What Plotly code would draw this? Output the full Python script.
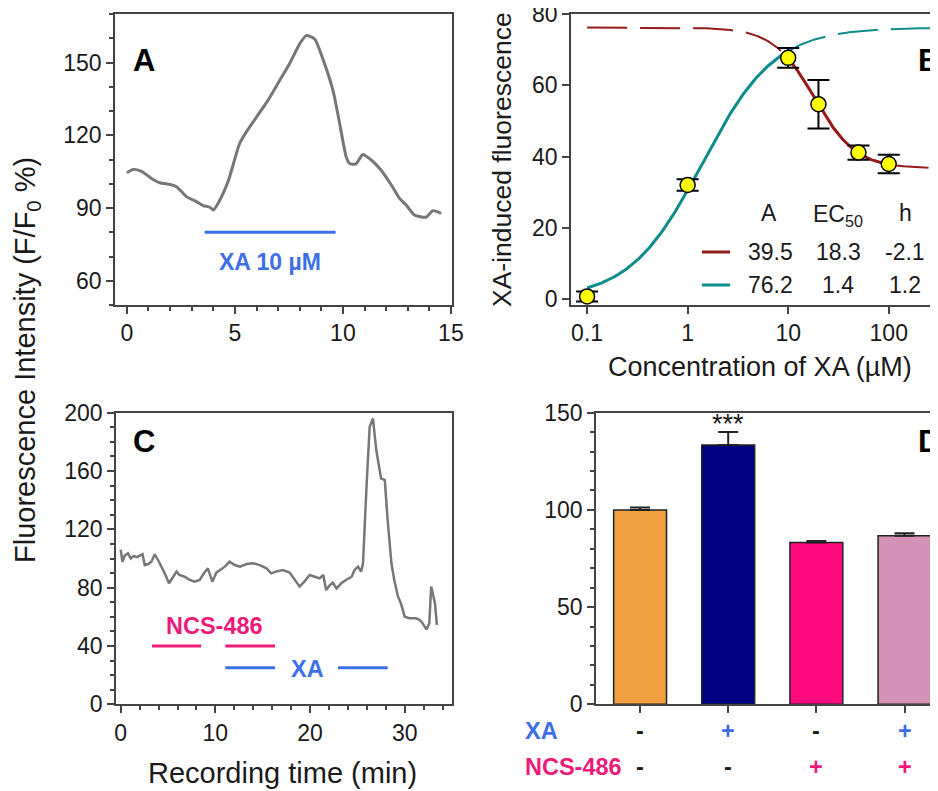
import numpy as np
import plotly.graph_objects as go

# page body has an 8px margin, so the figure is offset by 8px
OFF = 8
W, H = 938 - OFF, 791 - OFF
def px(x):
    return (x - OFF) / W
def py(y):
    return 1 - (y - OFF) / H

# ---------------- Panel A data ----------------
a_time = [0, 0.29, 0.68, 1.14, 1.53, 2.0, 2.3, 2.76, 3.22, 3.53, 3.84, 4.0, 4.22, 4.68,
          5.22, 5.53, 6.0, 6.53, 7.07, 7.53, 8.0, 8.3, 8.69, 9.07, 9.54, 9.85, 10.15,
          10.3, 10.6, 10.92, 11.23, 11.77, 12.24, 12.62, 12.93, 13.31, 13.85, 14.16, 14.55]
a_fluor = [104.5, 105.9, 105.1, 102.2, 100.4, 99.7, 98.8, 94.7, 92.6, 91.0, 90.3, 89.2, 91.9, 100.8,
           116.6, 121.4, 127.5, 134.4, 142.6, 149.5, 157.7, 161.1, 159.7, 151.5, 138.5, 124.8, 111.1,
           108.4, 108.1, 112.1, 110.4, 105.6, 99.5, 94.0, 91.2, 87.1, 86.2, 88.9, 87.8]
a_xa_period = [3.6, 9.66]
a_xa_level = [80, 80]

# ---------------- Panel B data ----------------
b_conc = [0.1, 1, 10, 20, 50, 100]
b_resp = [0.7, 32.0, 67.7, 54.7, 41.1, 37.9]
b_err = [1.4, 1.6, 2.8, 6.8, 2.0, 2.6]
fit_up = dict(A=76.2, EC50=1.4, h=1.2)
fit_down = dict(A=39.5, EC50=18.3, h=2.1, top=76.2)
b_tickvals = [0.1, 1, 10, 100]
b_ticktext = ["0.1", "1", "10", "100"]
b_ytickvals = [0, 20, 40, 60, 80]

# ---------------- Panel C data ----------------
c_time = [0, 0.18, 0.42, 0.77, 1.06, 1.37, 1.73, 2.0, 2.3, 2.54, 2.9, 3.24, 3.6, 3.94, 4.3, 4.65,
          5.1, 5.5, 5.9, 6.2, 6.76, 7.3, 7.8, 8.35, 8.77, 9.2, 9.68, 10.1, 10.5, 11.0, 11.5,
          12.04, 12.6, 13.3, 14.0, 14.7, 15.4, 15.9, 16.4, 17.1, 17.85, 18.4, 18.9, 19.4, 19.96,
          20.5, 21.0, 21.4, 21.7, 22.1, 22.4, 22.8, 23.3, 23.8, 24.4, 24.7, 25.07, 25.4, 25.6,
          25.95, 26.3, 26.65, 27.0, 27.5, 27.9, 28.2, 28.6, 28.9, 29.3, 29.6, 30.0, 30.5, 31.2,
          31.6, 31.9, 32.3, 32.6, 32.8, 33.2, 33.4]
c_fluor = [106, 97.8, 102, 103.5, 100, 101.7, 101, 102, 103, 95.5, 96.2, 97.8, 102.9, 99, 94.4, 89.8,
           83, 87.5, 91, 88.7, 87.5, 85.3, 84.1, 85.3, 89.8, 93.3, 84.1, 90.3, 92.1, 94.4, 97.8,
           95.5, 94.4, 96.2, 96.7, 95.5, 93.3, 89.8, 91, 92.1, 90.3, 85.3, 80.7, 84.1, 88.7,
           87.5, 86.4, 88.7, 78.4, 81.8, 83.4, 79.5, 83, 85.3, 87.5, 92.1, 94.4, 91, 96.7,
           147, 190.4, 196, 174.4, 155, 153.8, 126.4, 96.7, 85.3, 73.8, 69.3, 60.1, 59, 59,
           57.8, 55.5, 51.4, 55.5, 80.7, 69.3, 54.4]
c_ncs_periods = [[3.3, 8.5], [11.05, 16.3]]
c_ncs_level = 40
c_xa_periods = [[11.05, 16.3], [22.96, 28.2]]
c_xa_level = 25

# ---------------- Panel D data ----------------
d_groups = [0, 1, 2, 3]
d_values = [100, 133.4, 83.3, 86.7]
d_err = [1.3, 6.7, 0.7, 1.3]
d_colors = ["#f0a041", "#000080", "#ff0a7f", "#d291b5"]
d_xa = ["-", "+", "-", "+"]
d_ncs = ["-", "-", "+", "+"]

GRAY = "#777777"
FRAME = "#444444"
BLUE = "#3d6fe6"
PINK = "#ee1a7a"
RED = "#951a1a"
TEAL = "#0e8c8c"
FONT = "Arial, Liberation Sans, sans-serif"
TXT = "#1a1a1a"

fig = go.Figure()

# Panel A
fig.add_trace(go.Scatter(x=a_time, y=a_fluor, mode="lines", line=dict(color=GRAY, width=3, shape="spline", smoothing=0.6),
                         xaxis="x", yaxis="y", showlegend=False))
fig.add_trace(go.Scatter(x=a_xa_period, y=a_xa_level, mode="lines", line=dict(color=BLUE, width=3),
                         xaxis="x", yaxis="y", showlegend=False))

# Panel B curves (fitted Hill curves from the parameters shown in the legend)
def up_curve(x):
    x = np.asarray(x, float)
    return fit_up["A"] * x ** fit_up["h"] / (fit_up["EC50"] ** fit_up["h"] + x ** fit_up["h"])

def down_curve(x):
    x = np.asarray(x, float)
    return fit_down["top"] - fit_down["A"] * x ** fit_down["h"] / (fit_down["EC50"] ** fit_down["h"] + x ** fit_down["h"])

xmax_log = 2.5
seg_lo = np.logspace(-1, 1, 200)
seg_mid = np.logspace(1, 2, 150)
seg_hi = np.logspace(2, xmax_log, 80)
seg_up_hi = np.logspace(1, xmax_log, 200)

fig.add_trace(go.Scatter(x=seg_lo, y=down_curve(seg_lo), mode="lines", line=dict(color=RED, width=2, dash="40px,13px"),
                         xaxis="x2", yaxis="y2", showlegend=False))
fig.add_trace(go.Scatter(x=seg_mid, y=down_curve(seg_mid), mode="lines", line=dict(color=RED, width=3),
                         xaxis="x2", yaxis="y2", showlegend=False))
fig.add_trace(go.Scatter(x=seg_hi, y=down_curve(seg_hi), mode="lines", line=dict(color=RED, width=2, dash="40px,13px"),
                         xaxis="x2", yaxis="y2", showlegend=False))
fig.add_trace(go.Scatter(x=seg_lo, y=up_curve(seg_lo), mode="lines", line=dict(color=TEAL, width=3),
                         xaxis="x2", yaxis="y2", showlegend=False))
fig.add_trace(go.Scatter(x=seg_up_hi, y=up_curve(seg_up_hi), mode="lines", line=dict(color=TEAL, width=2, dash="40px,13px"),
                         xaxis="x2", yaxis="y2", showlegend=False))
fig.add_trace(go.Scatter(x=b_conc, y=b_resp, mode="markers",
                         marker=dict(size=15, color="#ffff00", line=dict(color="#000000", width=1.5)),
                         error_y=dict(type="data", array=b_err, color="#000000", thickness=2, width=11),
                         xaxis="x2", yaxis="y2", showlegend=False))

# Panel C
fig.add_trace(go.Scatter(x=c_time, y=c_fluor, mode="lines", line=dict(color=GRAY, width=2.5),
                         xaxis="x3", yaxis="y3", showlegend=False))
for seg in c_ncs_periods:
    fig.add_trace(go.Scatter(x=seg, y=[c_ncs_level] * 2, mode="lines", line=dict(color=PINK, width=3),
                             xaxis="x3", yaxis="y3", showlegend=False))
for seg in c_xa_periods:
    fig.add_trace(go.Scatter(x=seg, y=[c_xa_level] * 2, mode="lines", line=dict(color=BLUE, width=3),
                             xaxis="x3", yaxis="y3", showlegend=False))

# Panel D
fig.add_trace(go.Bar(x=d_groups, y=d_values, width=0.6, marker=dict(color=d_colors, line=dict(color="#222222", width=1.5)),
                     error_y=dict(type="data", array=d_err, arrayminus=[0] * 4, symmetric=False,
                                  color="#222222", thickness=2, width=10),
                     xaxis="x4", yaxis="y4", showlegend=False))

tickfont = dict(family=FONT, size=23, color=TXT)

def axis_common(**kw):
    d = dict(showline=True, linecolor=FRAME, linewidth=1.5, ticks="outside", ticklen=7, tickwidth=1.5,
             tickcolor=FRAME, tickfont=tickfont, showgrid=False, zeroline=False, mirror=True, automargin=False,
             ticklabeloverflow="allow")
    d.update(kw)
    return d

MINOR = dict(ticks="outside", ticklen=4, tickwidth=1.5, tickcolor=FRAME)
yA = [py(305), py(14)]
yC = [py(704.3), py(412.7)]

layout = dict(
    width=W, height=H, margin=dict(l=0, r=0, t=0, b=0, autoexpand=False),
    paper_bgcolor="white", plot_bgcolor="white",
    font=dict(family=FONT, color=TXT),
    xaxis=axis_common(domain=[px(115), px(452)], range=[-0.55, 15.05], dtick=5, tick0=0,
                      minor=dict(dtick=1, **MINOR), anchor="y"),
    yaxis=axis_common(domain=yA, range=[50, 170], dtick=30, tick0=0,
                      minor=dict(dtick=10, **MINOR), anchor="x"),
    xaxis2=axis_common(domain=[px(571), 1.0], type="log", range=[-1.16, 2.49], tickvals=b_tickvals,
                       ticktext=b_ticktext, anchor="y2"),
    yaxis2=axis_common(domain=yA, range=[-1.7, 80.02], tickvals=b_ytickvals, mirror=False, anchor="x2"),
    xaxis3=axis_common(domain=[px(116), px(452)], range=[-0.5, 35], dtick=10, tick0=0,
                       minor=dict(dtick=2, **MINOR), anchor="y3"),
    yaxis3=axis_common(domain=yC, range=[0, 200.01], dtick=40, tick0=0,
                       minor=dict(dtick=10, **MINOR), anchor="x3"),
    xaxis4=axis_common(domain=[px(596), 1.0], range=[-0.5, 3.38], tickvals=d_groups, showticklabels=False,
                       anchor="y4"),
    yaxis4=axis_common(domain=yC, range=[0, 150.01], dtick=50, tick0=0, mirror=False,
                       minor=dict(dtick=10, **MINOR), anchor="x4"),
)
fig.update_layout(**layout)

ann = []
def A(text, x, y, size=22, bold=False, color=TXT, xanchor="center", yanchor="middle", xref="paper", yref="paper", angle=0):
    t = f"<b>{text}</b>" if bold else text
    ann.append(dict(text=t, x=x, y=y, xref=xref, yref=yref, xanchor=xanchor, yanchor=yanchor, showarrow=False,
                    textangle=angle, font=dict(family=FONT, size=size, color=color)))

# panel letters
A("A", px(131), py(61), size=31, bold=True, color="#000", xanchor="left")
A("B", px(916), py(60), size=31, bold=True, color="#000", xanchor="left")
A("C", px(131), py(441), size=31, bold=True, color="#000", xanchor="left")
A("D", px(916), py(441), size=31, bold=True, color="#000", xanchor="left")

# axis titles
A("Fluorescence Intensity (F/F<sub>0</sub> %)", px(27), py(360), size=29, angle=-90)
A("XA-induced fluorescence", px(502), py(159), size=26.5, angle=-90)
A("Concentration of XA (µM)", px(760), py(367), size=27)
A("Recording time (min)", px(282), py(773), size=29)

# Panel A label
A("XA 10 µM", 6.64, 67.7, size=23, bold=True, color=BLUE, xref="x", yref="y")

# Panel B legend table
A("A", px(769), py(213), size=23)
A("EC<sub>50</sub>", px(838), py(215), size=23)
A("h", px(905), py(213), size=23)
A("39.5", px(770), py(252), size=23)
A("18.3", px(838), py(252), size=23)
A("-2.1", px(905), py(252), size=23)
A("76.2", px(770), py(285), size=23)
A("1.4", px(838), py(285), size=23)
A("1.2", px(905), py(285), size=23)

# Panel C labels
A("NCS-486", 9.86, 53.7, size=23.5, bold=True, color=PINK, xref="x3", yref="y3")
A("XA", 19.7, 24, size=23.5, bold=True, color=BLUE, xref="x3", yref="y3")

# Panel D labels
A("***", 1, 144, size=27, color=TXT, xref="x4", yref="y4")
A("XA", px(523), py(731), size=23.5, bold=True, color=BLUE, xanchor="left")
A("NCS-486", px(523), py(767), size=23.5, bold=True, color=PINK, xanchor="left")
for i, s in enumerate(d_xa):
    A(s, d_groups[i], py(731), size=23.5, bold=True, color=BLUE if s == "+" else TXT, xref="x4")
for i, s in enumerate(d_ncs):
    A(s, d_groups[i], py(767), size=23.5, bold=True, color=PINK if s == "+" else TXT, xref="x4")

fig.update_layout(annotations=ann)

# legend sample lines in panel B
fig.update_layout(shapes=[
    dict(type="line", xref="paper", yref="paper", x0=px(702), x1=px(730), y0=py(252), y1=py(252),
         line=dict(color=RED, width=3)),
    dict(type="line", xref="paper", yref="paper", x0=px(702), x1=px(730), y0=py(285), y1=py(285),
         line=dict(color=TEAL, width=3)),
])

fig.write_html("out.html")
